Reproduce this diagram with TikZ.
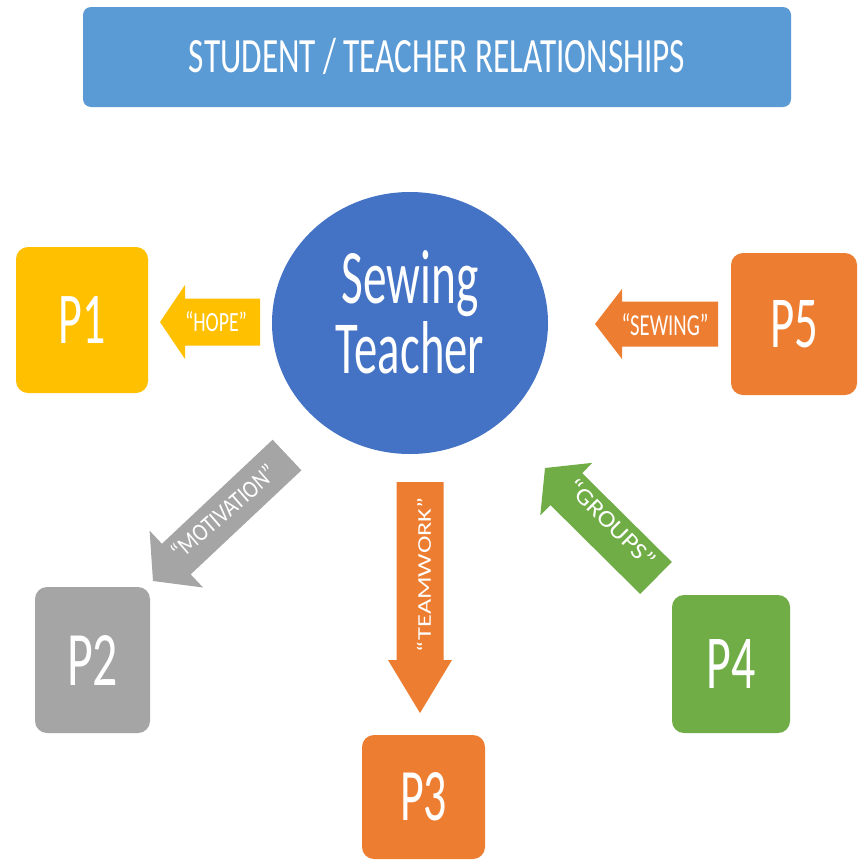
\documentclass[tikz,border=0pt]{standalone}
\usepackage{fontspec}
\setmainfont{Carlito}
\usetikzlibrary{calc,shapes.geometric}
\definecolor{titleblue}{HTML}{5B9BD5}
\definecolor{circblue}{HTML}{4472C4}
\definecolor{pyellow}{HTML}{FFC000}
\definecolor{pgray}{HTML}{A5A5A5}
\definecolor{porange}{HTML}{ED7D31}
\definecolor{pgreen}{HTML}{70AD47}

\newcommand\fitt[3]{\resizebox{#1pt}{#2pt}{#3}}

% #1 colour, #2 tail coordinate, #3 tip coordinate, #4 shaft half width, #5 head half width, #6 head length
\newcommand\blockarrow[6]{%
  \path let \p1=(#2), \p2=(#3), \n1={atan2(\y2-\y1,\x2-\x1)}, \n2={veclen(\x2-\x1,\y2-\y1)} in
    \pgfextra{\xdef\baang{\n1}\xdef\balen{\n2}};
  \fill[#1, shift={(#2)}, rotate=\baang]
    (0,-#4) -- ({\balen-#6},-#4) -- ({\balen-#6},-#5) -- (\balen,0)
    -- ({\balen-#6},#5) -- ({\balen-#6},#4) -- (0,#4) -- cycle;
}

\tikzset{
  pbox/.style={rectangle, rounded corners=12pt, text=white, inner sep=0pt},
  lbl/.style={text=white, inner sep=0pt},
}

\begin{document}
\begin{tikzpicture}[x=1pt, y=-1pt]
\fill[white] (0,0) rectangle (858,860);
\useasboundingbox (0,0) rectangle (858,860);

% title
\node[rectangle, rounded corners=8pt, fill=titleblue, minimum width=708pt, minimum height=100pt,
      text=white, inner sep=0pt] (title) at (437,57)
  {\fitt{496}{32}{STUDENT \smash{/} TEACHER RELATIONSHIPS}};

% centre
\node[ellipse, fill=circblue, minimum width=276pt, minimum height=262pt, text=white,
      align=center, font=\fontsize{10}{70}\selectfont, text depth=23pt, inner sep=0pt]
  (teacher) at (410,323) {\fitt{137}{53}{Sewing}\\\fitt{148}{52}{Teacher}};

% boxes
\node[pbox, fill=pyellow, minimum width=132pt, minimum height=146pt] (p1) at (82,320) {\fitt{47}{47}{P1}};
\node[pbox, fill=pgray, minimum width=115pt, minimum height=146pt] (p2) at (92.5,660) {\fitt{51}{50}{P2}};
\node[pbox, fill=porange, minimum width=123pt, minimum height=124pt] (p3) at (423.5,797) {\fitt{47}{48}{P3}};
\node[pbox, fill=pgreen, minimum width=118pt, minimum height=138pt] (p4) at (731,664) {\fitt{49}{49}{P4}};
\node[pbox, fill=porange, minimum width=126pt, minimum height=142pt] (p5) at (794,324) {\raisebox{-7pt}{\fitt{48}{47}{P5}}};

% arrow end points
\coordinate (hopeA) at (260,322);  \coordinate (hopeB) at (160,322);
\coordinate (sewA) at (718,324);   \coordinate (sewB) at (595,324);
\coordinate (motA) at (287,455);   \coordinate (motB) at (153,581);
\coordinate (teamA) at (420,482);  \coordinate (teamB) at (420,713);
\coordinate (grpA) at (656,578);   \coordinate (grpB) at (545,468);

\blockarrow{pyellow}{hopeA}{hopeB}{23.5}{37}{25}
\blockarrow{porange}{sewA}{sewB}{22.5}{35}{27}
\blockarrow{pgray}{motA}{motB}{21}{39}{32}
\blockarrow{porange}{teamA}{teamB}{23.5}{32}{53}
\blockarrow{pgreen}{grpA}{grpB}{22.5}{37}{30}

% arrow labels
\node[lbl] (hope) at (216,322) {\fitt{62}{20}{“HOPE”}};
\node[lbl] (sewing) at (665,325) {\fitt{87}{22}{“SEWING”}};
\node[lbl, rotate=41] (motivation) at (223,512) {\fitt{130}{18}{“MOTIVATION”}};
\node[lbl, rotate=90] (teamwork) at (424,575) {\fitt{155}{14}{“TEAMWORK”}};
\node[lbl, rotate=-45] (groups) at (612,523) {\fitt{114}{17}{“GROUPS”}};
\end{tikzpicture}
\end{document}
